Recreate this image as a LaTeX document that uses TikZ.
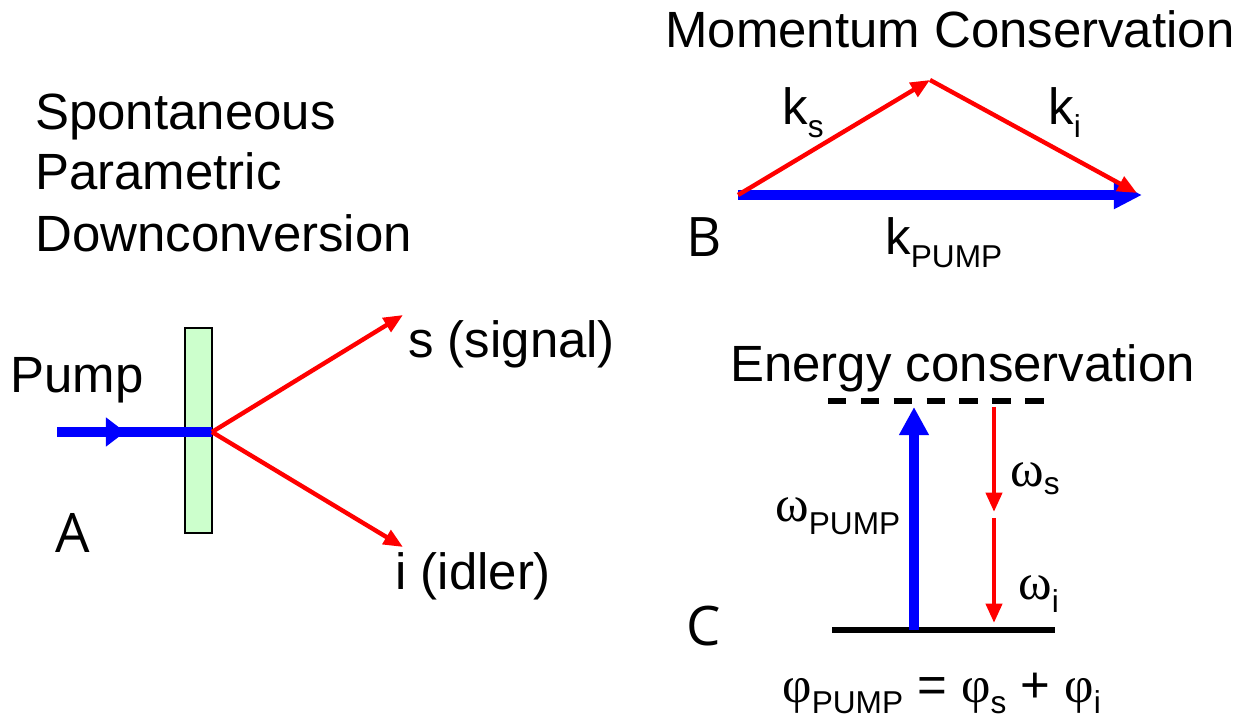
\documentclass[tikz,border=0pt]{standalone}
\usepackage{fontspec}
\setmainfont{Liberation Sans}
\newfontfamily\greekfont{Liberation Serif}
\newfontfamily\labfont{Open Sans}
\usetikzlibrary{arrows.meta,decorations.markings}
\definecolor{pblue}{RGB}{0,0,255}
\definecolor{pred}{RGB}{255,0,0}
\definecolor{xgreen}{RGB}{204,255,204}
\newcommand\gk[1]{{\greekfont\fontsize{29}{32}\selectfont #1}}
\newcommand\subtxt[2][7pt]{\lower #1\hbox{\fontsize{18}{18}\selectfont #2}}
\begin{document}
\begin{tikzpicture}[x=0.02cm,y=-0.02cm,
  txt/.style={inner sep=0pt, anchor=base west, font=\fontsize{29}{35}\selectfont},
  lbl/.style={inner sep=0pt, anchor=base west, font=\labfont\fontsize{31}{36}\selectfont},
  bluearrow/.style={draw=pblue, line width=5.2pt, -{Triangle[length=16pt,width=16pt]}},
  redarrow/.style={draw=pred, line width=2.5pt, -{Triangle[length=11pt,width=9pt]}},
  level/.style={draw=black, line width=3.3pt},
]
\useasboundingbox (0,0) rectangle (1252,719);

% ---- A ----
\node[txt] (t1) at (35,130) {Spontaneous};
\node[txt] (t2) at (35,190) {Parametric};
\node[txt] (t3) at (35,252) {Downconversion};
\node[draw=black, line width=0.9pt, fill=xgreen, minimum width=0.54cm, minimum height=4.1cm, inner sep=0pt] (crys) at (198.5,430.5) {};
\coordinate (pin) at (57,432);
\coordinate (pout) at (212,432);
\coordinate (stip) at (403,315);
\coordinate (itip) at (403,547);
\draw[draw=pblue, line width=5.2pt, postaction={decorate},
  decoration={markings, mark=at position 0.44 with {\arrow[pblue]{Triangle[length=11pt,width=16pt]}}}] (pin) -- (pout);
\draw[redarrow] (pout) -- (stip);
\draw[redarrow] (pout) -- (itip);
\node[txt] (pump) at (10,393) {Pump};
\node[txt] (sig) at (408,358) {s (signal)};
\node[txt] (idl) at (395,590) {i (idler)};
\node[lbl] (la) at (55,553) {A};

% ---- B ----
\node[txt] (mom) at (665,48) {Momentum Conservation};
\coordinate (b0) at (738,195);
\coordinate (b1) at (930,80);
\coordinate (b2) at (1142,195);
\coordinate (b3) at (1137,193);
\draw[draw=pblue, line width=5.2pt, -{Triangle[length=16pt,width=15pt]}] (b0) -- (b2);
\draw[redarrow] (b0) -- (b1);
\draw[redarrow] (b1) -- (b3);
\node[txt] (ks) at (782,125) {k\subtxt{s}};
\node[txt] (ki) at (1048,125) {k\subtxt{i}};
\node[txt] (kp) at (885,255) {k\subtxt{PUMP}};
\node[lbl] (lb) at (686,257) {B};

% ---- C ----
\node[txt] (en) at (730,382) {Energy conservation};
\coordinate (u0) at (828,401);
\coordinate (u1) at (1050,401);
\coordinate (g0) at (832,630);
\coordinate (g1) at (1055,630);
\draw[level, dash pattern=on 10.5pt off 8.2pt] (u0) -- (u1);
\draw[level] (g0) -- (g1);
\coordinate (pb) at (914,630);
\coordinate (pt) at (914,407);
\draw[bluearrow] (pb) -- (pt);
\coordinate (r0) at (994,407);
\coordinate (r1) at (994,512);
\coordinate (r2) at (994,518);
\coordinate (r3) at (994,623);
\draw[redarrow] (r0) -- (r1);
\draw[redarrow] (r2) -- (r3);
\node[txt] (wp) at (775,522) {\gk{ω}\subtxt{PUMP}};
\node[txt] (ws) at (1010,487) {\gk{ω}\subtxt[4.5pt]{s}};
\node[txt] (wi) at (1018,600) {\gk{ω}\subtxt{i}};
\node[lbl] (lc) at (686,645) {C};
\node[txt] (phi) at (782,703) {\gk{φ}\subtxt[6pt]{PUMP} = \gk{φ}\subtxt[6pt]{s} + \gk{φ}\subtxt[6pt]{i}};
\end{tikzpicture}
\end{document}
